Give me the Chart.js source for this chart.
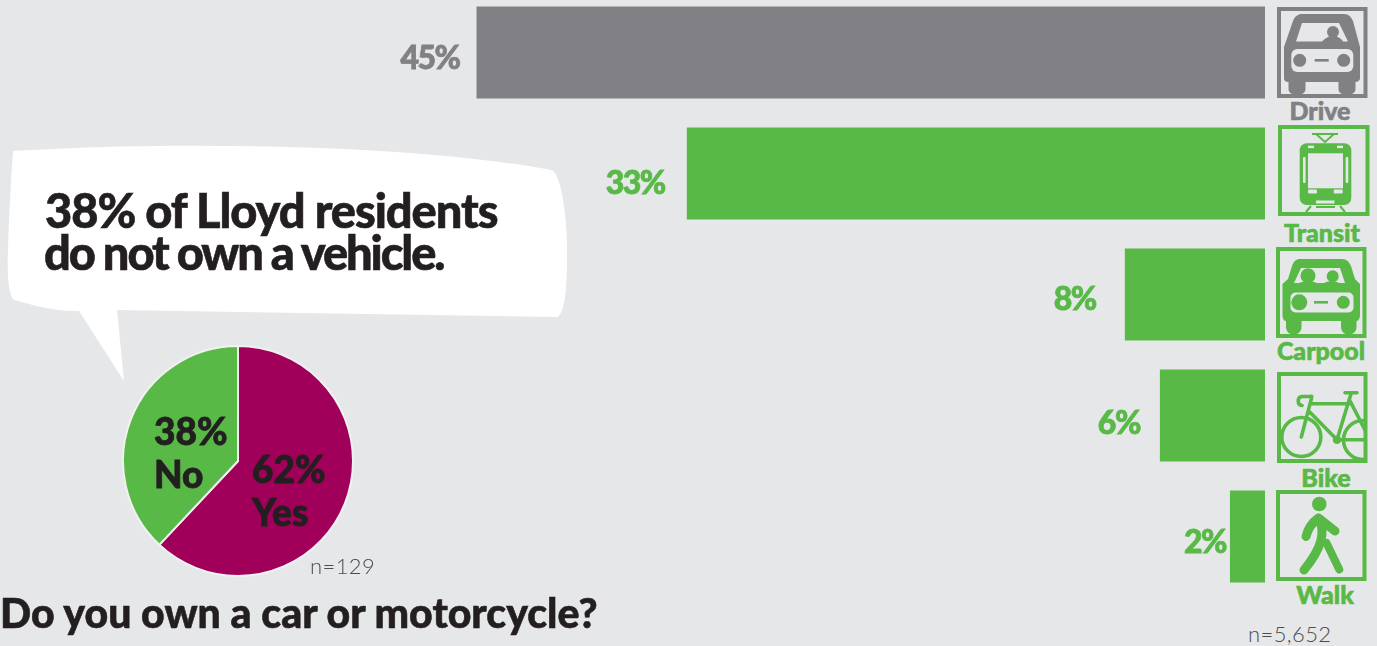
<!DOCTYPE html>
<html>
<head>
<meta charset="utf-8">
<title>Commute mode and vehicle ownership</title>
<script src="https://cdn.jsdelivr.net/npm/chart.js@4/dist/chart.umd.min.js"></script>
<style>
    html, body { margin: 0; padding: 0; width: 1377px; height: 646px; overflow: hidden; background: #e6e7e9; }
    canvas, svg, .txt { position: absolute; }
    #modeChart { left: 0; top: -8px; }
    #ownChart { left: 118px; top: 341px; }
    svg { left: 0; top: 0; }
    .txt { font-family: Lato, sans-serif; font-weight: 900; white-space: nowrap; line-height: 1; color: #231f20; -webkit-text-stroke: 0.6px currentColor; }
    .cap { font-size: 25px; transform: translateX(-50%); color: #58b947; }
    .n { font-weight: 300; font-size: 22px; letter-spacing: 0.4px; color: #4d4d4f; -webkit-text-stroke: 0; }
</style>
</head>
<body>
<svg width="1377" height="646">
    <path fill="#fff" d="M13 151 C150 142 400 142 551 170 C562 172 568 225 567 255 C567 290 565 310 558 317 L117 310 L124 381 L79 311 C60 312 35 306 14 300 C8 295 7 270 8 250 C9 215 11 180 13 151 Z"/>

    <!-- Drive -->
    <g transform="translate(1277 7)">
        <rect x="2" y="2" width="86.5" height="87" fill="none" stroke="#818085" stroke-width="4"/>
        <path fill="#818085" d="M25 7 H67 C72 7 74 10 76 14 L83 40 V71 C83 74 80 75 78.5 75 V82 C78.5 90 61.5 90 61.5 82 V75 H28.5 V82 C28.5 90 11.5 90 11.5 82 V75 C9 75 7 74 7 71 V40 L16 14 C18 9 21 7 25 7 Z"/>
        <path fill="#e6e7e9" d="M25 16 H62 L71 34.5 H66 C64 31 60 29 56 29 C52 29 48 31 45 34.5 H19 Z"/>
        <circle cx="56" cy="25" r="6" fill="#818085"/>
        <rect x="14.3" y="42" width="62" height="23" rx="6" fill="#e6e7e9"/>
        <circle cx="22.7" cy="53.3" r="6.5" fill="#818085"/>
        <circle cx="66.7" cy="53.3" r="6.5" fill="#818085"/>
        <rect x="37.7" y="52" width="14" height="2.6" fill="#818085"/>
    </g>

    <!-- Transit -->
    <g transform="translate(1278 125)" fill="#58b947">
        <rect x="2" y="2" width="87.5" height="87" fill="none" stroke="#58b947" stroke-width="4"/>
        <rect x="21.7" y="18.3" width="51.6" height="61.7" rx="7"/>
        <rect x="30" y="28.3" width="35" height="35" fill="#e6e7e9"/>
        <rect x="25" y="32" width="2.6" height="26" rx="1" fill="#e6e7e9"/>
        <rect x="67.7" y="32" width="2.6" height="26" rx="1" fill="#e6e7e9"/>
        <rect x="30" y="20.7" width="6" height="2.4" fill="#e6e7e9"/>
        <rect x="59" y="20.7" width="6" height="2.4" fill="#e6e7e9"/>
        <rect x="30" y="64.5" width="9" height="4" rx="1" fill="#e6e7e9"/>
        <rect x="55.7" y="64.5" width="9" height="4" rx="1" fill="#e6e7e9"/>
        <rect x="38" y="75.5" width="18.5" height="3" fill="#e6e7e9"/>
        <path fill="none" stroke="#58b947" stroke-width="1.8" d="M34 9 H60 M38 9 L47 17 L56 9"/>
        <path fill="none" stroke="#58b947" stroke-width="2" d="M28 87 L33 81 M67 87 L62 81 M38 82 H57"/>
    </g>

    <!-- Carpool -->
    <g transform="translate(1276 247)">
        <rect x="2" y="2" width="86.5" height="87" fill="none" stroke="#58b947" stroke-width="4"/>
        <path fill="#58b947" d="M24 12 H66 C71 12 73 15 75 19 L79 32 L84 37 V68 C84 72 82 74 80.5 74 V80 C80.5 90 65 90 65 80 V74 H25.5 V80 C25.5 90 10 90 10 80 V74 C8 74 6.5 72 6.5 68 V37 L12 32 L16 19 C18 14 20 12 24 12 Z"/>
        <path fill="#e6e7e9" d="M25 21 H64 L69 36 H18 Z"/>
        <circle cx="32" cy="28.7" r="7.5" fill="#58b947"/>
        <circle cx="56.7" cy="29.3" r="6" fill="#58b947"/>
        <path fill="#58b947" d="M21 38 C24 33 40 33 43 38 H46 C49 33 62 33 66 38 Z"/>
        <rect x="14.5" y="45.5" width="63" height="20" rx="5" fill="#e6e7e9"/>
        <circle cx="23.3" cy="55.3" r="8" fill="#58b947"/>
        <circle cx="67.3" cy="55.3" r="6.5" fill="#58b947"/>
        <rect x="38" y="54" width="14" height="2.6" fill="#58b947"/>
    </g>

    <!-- Bike -->
    <clipPath id="bikeBox"><rect x="0" y="0" width="90" height="91"/></clipPath>
    <g transform="translate(1277 372)">
        <rect x="2" y="2" width="86.5" height="87" fill="none" stroke="#58b947" stroke-width="4"/>
        <g clip-path="url(#bikeBox)" fill="none" stroke="#58b947" stroke-width="3.6" stroke-linecap="round" stroke-linejoin="round">
            <circle cx="24.3" cy="65" r="19.5"/>
            <circle cx="86" cy="68" r="19.5"/>
            <path d="M24.3 65 L34.3 27 C35 24 35 24 33 24.5 H25 C20 25 20 33 25 33.5 M34 31.7 H72.7 M32.7 40 L60 67.7 L74 21.7 M68 20.7 H80 M72.7 28.3 L90 62 M60 67.7 H90"/>
            <circle cx="60" cy="67.7" r="2.5" fill="#58b947"/>
        </g>
    </g>

    <!-- Walk -->
    <g transform="translate(1276 490)">
        <rect x="2" y="2" width="86.5" height="87" fill="none" stroke="#58b947" stroke-width="4"/>
        <circle cx="43.3" cy="14" r="7.3" fill="#58b947"/>
        <path fill="none" stroke="#58b947" stroke-width="9" stroke-linecap="round" stroke-linejoin="round" d="M30 46.5 C32 38 37 32 42.5 28 L59 41 M42.5 28 C50 42 46 58 28 80"/>
        <path fill="none" stroke="#58b947" stroke-width="8" stroke-linecap="round" d="M50.5 53 L63.3 79.5"/>
    </g>
</svg>

<canvas id="modeChart" width="1265" height="605"></canvas>
<canvas id="ownChart" width="240" height="240"></canvas>

<div class="txt" style="left:45px;top:187px;font-size:47px;letter-spacing:-1.05px">38% of Lloyd residents</div>
<div class="txt" style="left:44px;top:229px;font-size:47px;letter-spacing:-2.1px">do not own a vehicle.</div>
<div class="txt" style="left:0;top:592px;font-size:41px">Do you own a car or motorcycle?</div>
<div class="txt n" style="left:310px;top:555px">n=129</div>
<div class="txt n" style="left:1248px;top:623px">n=5,652</div>
<div class="txt cap" style="left:1320px;top:98px;color:#818085">Drive</div>
<div class="txt cap" style="left:1322px;top:220px">Transit</div>
<div class="txt cap" style="left:1321px;top:338px">Carpool</div>
<div class="txt cap" style="left:1326px;top:465px">Bike</div>
<div class="txt cap" style="left:1325px;top:582px">Walk</div>

<script>
(function () {
    var modes = ['Drive', 'Transit', 'Carpool', 'Bike', 'Walk'];
    var modeShares = [45, 33, 8, 6, 2];
    var modeLabels = ['45%', '33%', '8%', '6%', '2%'];
    var modeColors = ['#818085', '#58b947', '#58b947', '#58b947', '#58b947'];
    var labelGaps = [17, 22, 29, 20, 4];
    var labelDrops = [6, 10, 5, 8, 6];

    var ownAnswers = ['Yes', 'No'];
    var ownShares = [62, 38];
    var ownColors = ['#a1005a', '#58b947'];
    var ownLabels = ['62%', '38%'];

    // percent figures to the left of each bar
    var barLabels = {
        id: 'barLabels',
        afterDatasetsDraw: function (chart) {
            var ctx = chart.ctx;
            ctx.save();
            ctx.font = '900 32px Lato, sans-serif';
            ctx.letterSpacing = '-1.5px';
            ctx.lineWidth = 0.8;
            ctx.textAlign = 'right';
            ctx.textBaseline = 'middle';
            chart.getDatasetMeta(0).data.forEach(function (bar, i) {
                ctx.fillStyle = modeColors[i];
                ctx.strokeStyle = modeColors[i];
                ctx.fillText(modeLabels[i], bar.x - labelGaps[i], bar.y + labelDrops[i]);
                ctx.strokeText(modeLabels[i], bar.x - labelGaps[i], bar.y + labelDrops[i]);
            });
            ctx.restore();
        }
    };

    // two line labels inside the pie slices
    var sliceLabels = {
        id: 'sliceLabels',
        afterDatasetsDraw: function (chart) {
            var ctx = chart.ctx;
            var cx = chart.getDatasetMeta(0).data[0].x;
            var cy = chart.getDatasetMeta(0).data[0].y;
            var offsets = [[14, 22], [-84, -16]];
            ctx.save();
            ctx.font = '900 37px Lato, sans-serif';
            ctx.fillStyle = '#231f20';
            ctx.strokeStyle = '#231f20';
            ctx.lineWidth = 0.8;
            ctx.textAlign = 'left';
            ctx.textBaseline = 'alphabetic';
            ownAnswers.forEach(function (answer, i) {
                var x = cx + offsets[i][0];
                var y = cy + offsets[i][1];
                ctx.fillText(ownLabels[i], x, y);
                ctx.strokeText(ownLabels[i], x, y);
                ctx.fillText(answer, x, y + 43);
                ctx.strokeText(answer, x, y + 43);
            });
            ctx.restore();
        }
    };

    new Chart(document.getElementById('modeChart').getContext('2d'), {
        type: 'bar',
        data: {
            labels: modes,
            datasets: [{
                data: modeShares,
                backgroundColor: modeColors,
                borderWidth: 0,
                categoryPercentage: 1,
                barPercentage: 0.76
            }]
        },
        options: {
            indexAxis: 'y',
            responsive: false,
            animation: false,
            layout: { padding: 0 },
            plugins: { legend: { display: false }, tooltip: { enabled: false } },
            scales: {
                x: { reverse: true, min: 0, max: 72.2, display: false },
                y: { display: false }
            }
        },
        plugins: [barLabels]
    });

    new Chart(document.getElementById('ownChart').getContext('2d'), {
        type: 'pie',
        data: {
            labels: ownAnswers,
            datasets: [{
                data: ownShares,
                backgroundColor: ownColors,
                borderColor: '#f1f1f2',
                borderWidth: 2
            }]
        },
        options: {
            responsive: false,
            animation: false,
            layout: { padding: 4 },
            plugins: { legend: { display: false }, tooltip: { enabled: false } }
        },
        plugins: [sliceLabels]
    });
}());
</script>
</body>
</html>
